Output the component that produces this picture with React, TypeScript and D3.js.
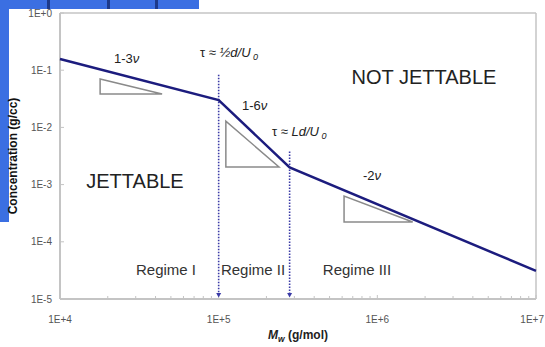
import React, { useEffect } from "react";
import * as d3 from "d3";

const W = 545;
const H = 347;

const xTicks = [1e4, 1e5, 1e6, 1e7];
const xTickLabels = ["1E+4", "1E+5", "1E+6", "1E+7"];
const yTicks = [1, 1e-1, 1e-2, 1e-3, 1e-4, 1e-5];
const yTickLabels = ["1E+0", "1E-1", "1E-2", "1E-3", "1E-4", "1E-5"];

// piecewise power-law curve
const curveMw = [1e4, 1e5, 2.8e5, 1e7];
const curveConc = [0.157, 0.03, 2.0e-3, 3.1e-5];

// regime boundaries (dotted arrows): Mw, top concentration
const boundaryMw = [1e5, 2.8e5];
const boundaryTop = [0.083, 3.8e-3];

// slope triangles: [x0, x1], [yTop, yBottom]
const triX0 = [1.79e4, 1.11e5, 6.17e5];
const triX1 = [4.4e4, 2.4e5, 1.67e6];
const triYTop = [0.07, 0.0129, 6.3e-4];
const triYBot = [0.0384, 2.03e-3, 2.22e-4];

export default function App() {
  useEffect(() => {
    document.body.style.margin = "0";
  }, []);

  const x = d3.scaleLog().domain([1e4, 1e7]).range([60, 536]);
  const y = d3.scaleLog().domain([1e-5, 1]).range([299, 13]);

  const line = d3
    .line<number>()
    .x((_, i) => x(curveMw[i]))
    .y((d) => y(d));

  const minorX: number[] = [];
  for (let e = 4; e < 7; e++) for (let k = 2; k <= 9; k++) minorX.push(k * Math.pow(10, e));

  const font = "'Liberation Sans', Arial, sans-serif";
  const frame = "#c4c4c4";
  const navy = "#1c1c7e";
  const dotted = "#3a3aa6";

  return (
    <svg width={W} height={H} style={{ display: "block", background: "#fff" }} fontFamily={font}>
      {/* slide background remnants */}
      <rect x={0} y={0} width={199} height={9} fill="#3b6fe2" />
      <rect x={0} y={0} width={9} height={222} fill="#3b6fe2" />
      <rect x={47} y={0} width={3} height={9} fill="#1d3a8a" />
      <rect x={107} y={0} width={3} height={9} fill="#1d3a8a" />
      <rect x={155} y={0} width={3} height={9} fill="#1d3a8a" />

      {/* frame */}
      <line x1={x(1e4)} x2={x(1e7)} y1={y(1)} y2={y(1)} stroke={frame} strokeWidth={1.5} />
      <line x1={x(1e7)} x2={x(1e7)} y1={y(1)} y2={y(1e-5)} stroke={frame} strokeWidth={1.5} />
      <line x1={x(1e4)} x2={x(1e4)} y1={y(1)} y2={y(1e-5)} stroke={frame} strokeWidth={2} />
      <line x1={x(1e4)} x2={x(1e7)} y1={y(1e-5)} y2={y(1e-5)} stroke={frame} strokeWidth={2} />

      {/* ticks */}
      {minorX.map((v, i) => (
        <line key={"mx" + i} x1={x(v)} x2={x(v)} y1={y(1e-5)} y2={y(1e-5) - 3} stroke={frame} strokeWidth={1} />
      ))}
      {xTicks.map((v, i) => (
        <line key={"Mx" + i} x1={x(v)} x2={x(v)} y1={y(1e-5)} y2={y(1e-5) - 4} stroke={frame} strokeWidth={1} />
      ))}
      {yTicks.map((v, i) => (
        <line key={"My" + i} x1={x(1e4)} x2={x(1e4) + 4} y1={y(v)} y2={y(v)} stroke={frame} strokeWidth={1} />
      ))}

      {/* tick labels */}
      {xTicks.map((v, i) => (
        <text
          key={"xl" + i}
          x={i === xTicks.length - 1 ? W - 1 : x(v)}
          y={y(1e-5) + 24}
          textAnchor={i === xTicks.length - 1 ? "end" : "middle"}
          fontSize={10}
          fill="#555"
        >
          {xTickLabels[i]}
        </text>
      ))}
      {yTicks.map((v, i) => (
        <text key={"yl" + i} x={x(1e4) - 8} y={y(v) + 3.5} textAnchor="end" fontSize={10} fill="#555">
          {yTickLabels[i]}
        </text>
      ))}

      {/* axis titles */}
      <text x={298} y={339} textAnchor="middle" fontSize={12} fontWeight="bold" fill="#222">
        <tspan fontStyle="italic">M</tspan>
        <tspan fontStyle="italic" fontSize={8.5} dy={3}>w</tspan>
        <tspan dy={-3}> (g/mol)</tspan>
      </text>
      <text transform="translate(17,156) rotate(-90)" textAnchor="middle" fontSize={12} fontWeight="bold" fill="#111">
        Concentration (g/cc)
      </text>

      {/* slope triangles */}
      {triX0.map((_, i) => (
        <path
          key={"tri" + i}
          d={`M${x(triX0[i])},${y(triYTop[i])}L${x(triX0[i])},${y(triYBot[i])}L${x(triX1[i])},${y(triYBot[i])}Z`}
          fill="none"
          stroke="#8a8a8a"
          strokeWidth={1.5}
        />
      ))}

      {/* regime boundaries */}
      {boundaryMw.map((v, i) => (
        <g key={"b" + i}>
          <line x1={x(v)} x2={x(v)} y1={y(boundaryTop[i])} y2={y(1e-5) - 4} stroke={dotted} strokeWidth={1.6} strokeDasharray="1.5,1.5" />
          <path d={`M${x(v) - 2.5},${y(1e-5) - 6}L${x(v) + 2.5},${y(1e-5) - 6}L${x(v)},${y(1e-5) - 1.5}Z`} fill={dotted} />
        </g>
      ))}

      {/* curve */}
      <path d={line(curveConc) || ""} fill="none" stroke={navy} strokeWidth={2.5} />

      {/* annotations */}
      <g fill="#222" fontSize={13}>
        <text x={114} y={63}>1-3<tspan fontStyle="italic">ν</tspan></text>
        <text x={242} y={110}>1-6<tspan fontStyle="italic">ν</tspan></text>
        <text x={363} y={180}>-2<tspan fontStyle="italic">ν</tspan></text>
        <text x={200} y={57}>
          τ ≈ <tspan fontStyle="italic">½d/U</tspan>
          <tspan fontStyle="italic" fontSize={9} dy={3}> 0</tspan>
        </text>
        <text x={272} y={136}>
          τ ≈ <tspan fontStyle="italic">Ld/U</tspan>
          <tspan fontStyle="italic" fontSize={9} dy={3}> 0</tspan>
        </text>
      </g>
      <g fill="#222" fontSize={20}>
        <text x={424} y={84} textAnchor="middle">NOT JETTABLE</text>
        <text x={135} y={188} textAnchor="middle">JETTABLE</text>
      </g>
      <g fill="#333" fontSize={15}>
        <text x={166} y={275} textAnchor="middle">Regime I</text>
        <text x={253} y={275} textAnchor="middle">Regime II</text>
        <text x={357} y={275} textAnchor="middle">Regime III</text>
      </g>
    </svg>
  );
}
